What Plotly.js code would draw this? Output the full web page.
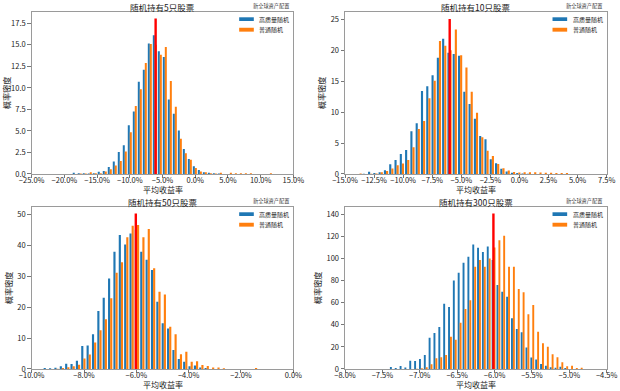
<!DOCTYPE html>
<html>
<head>
<meta charset="utf-8">
<script src="https://cdn.plot.ly/plotly-3.0.1.min.js"></script>
<style>html,body{margin:0;padding:0;background:#fff;}#chart{width:620px;height:391px;}</style>
</head>
<body>
<div id="chart"></div>
<script>
// ---------- data (percent returns, probability density) ----------
const titles = ['随机持有5只股票', '随机持有10只股票', '随机持有50只股票', '随机持有300只股票'];
const seriesNames = ['高质量随机', '普通随机'];
const watermark = '新全球资产配置';
const xTitle = '平均收益率';
const yTitle = '概率密度';

const bins5 = [-18.415, -17.65, -16.885, -16.12, -15.355, -14.59, -13.825, -13.06, -12.295, -11.53,
  -10.765, -10.0, -9.235, -8.47, -7.705, -6.94, -6.175, -5.41, -4.645, -3.88,
  -3.115, -2.35, -1.585, -0.82, -0.055, 0.71, 1.475, 2.24, 3.005, 3.77,
  4.535, 5.30, 6.065, 6.83, 7.595, 8.36, 9.125, 9.89, 10.655, 11.42];
const hq5 = [0.15, 0.1, 0.1, 0.05, 0.1, 0.25, 0.35, 0.8, 1.45, 2.55,
  3.35, 5.65, 7.25, 10.7, 12.1, 15.15, 16.1, 14.25, 13.6, 8.65,
  7.0, 5.05, 2.9, 1.75, 0.9, 0.45, 0.2, 0.15, 0.1, 0.05,
  0, 0, 0, 0, 0, 0, 0, 0, 0, 0];
const ord5 = [0, 0.05, 0.05, 0.2, 0.1, 0.1, 0.3, 0.55, 1.0, 1.5,
  2.6, 4.85, 7.9, 9.85, 12.9, 15.1, 15.0, 13.85, 14.75, 10.8,
  7.8, 4.1, 2.4, 1.65, 0.7, 0.3, 0.2, 0.1, 0.05, 0.15,
  0, 0.15, 0.1, 0.1, 0.1, 0.1, 0, 0, 0, 0.1];

const bins10 = [-13.75, -13.295, -12.84, -12.385, -11.93, -11.475, -11.02, -10.565, -10.11, -9.655,
  -9.2, -8.745, -8.29, -7.835, -7.38, -6.925, -6.47, -6.015, -5.56, -5.105,
  -4.65, -4.195, -3.74, -3.285, -2.83, -2.375, -1.92, -1.465, -1.01, -0.555,
  -0.1, 0.355, 0.81, 1.265, 1.72, 2.175, 2.63, 3.085, 3.54, 3.995];
const hq10 = [0, 0.05, 0.35, 0.15, 0.3, 0.6, 1.56, 2.26, 3.23, 3.88,
  6.9, 8.19, 13.4, 14.2, 15.95, 18.8, 21.87, 19.6, 19.4, 19.1,
  13.3, 11.3, 8.94, 6.14, 5.6, 2.37, 1.72, 0.86, 0.4, 0.2,
  0.15, 0.1, 0.05, 0, 0, 0, 0, 0, 0, 0];
const ord10 = [0.1, 0, 0.05, 0.1, 0.3, 0.5, 0.9, 1.4, 1.68, 2.26,
  4.31, 7.27, 8.57, 12.23, 15.09, 21.5, 20.74, 20.0, 23.38, 19.2,
  17.2, 13.3, 9.9, 5.93, 3.77, 2.9, 1.6, 0.91, 0.57, 0.32,
  0.25, 0.3, 0.3, 0.3, 0.25, 0.2, 0.2, 0.15, 0.15, 0.15];

const bins50 = [-9.46, -9.255, -9.05, -8.845, -8.64, -8.435, -8.23, -8.025, -7.82, -7.615,
  -7.41, -7.205, -7.0, -6.795, -6.59, -6.385, -6.18, -5.975, -5.77, -5.565,
  -5.36, -5.155, -4.95, -4.745, -4.54, -4.335, -4.13, -3.925, -3.72, -3.515,
  -3.31, -3.105, -2.9, -2.695, -2.49, -2.285, -2.08, -1.875, -1.67, -1.465];
const hq50 = [0.3, 0.2, 0.4, 0.9, 1.7, 1.6, 2.7, 7.4, 7.6, 11.2,
  18.75, 23.07, 29.3, 37.9, 43.3, 40.3, 43.86, 45.0, 37.9, 35.35,
  32.0, 21.77, 14.8, 13.1, 6.14, 3.2, 2.37, 0.9, 1.1, 0.5,
  0.3, 0, 0, 0, 0, 0, 0, 0, 0, 0];
const ord50 = [0, 0, 0.1, 0.3, 0.55, 0.9, 1.35, 3.4, 4.7, 8.6,
  12.5, 16.06, 22.85, 31.1, 34.5, 42.6, 46.3, 46.55, 42.6, 45.27,
  32.55, 25.0, 24.1, 13.7, 11.2, 4.74, 5.6, 2.3, 2.5, 1.3,
  1.0, 0.5, 0.5, 0.2, 0, 0, 0, 0, 0, 0.3];

const bins300 = [-7.374, -7.309, -7.244, -7.180, -7.115, -7.050, -6.985, -6.920, -6.856, -6.791,
  -6.726, -6.661, -6.596, -6.532, -6.467, -6.402, -6.337, -6.272, -6.208, -6.143,
  -6.078, -6.013, -5.948, -5.884, -5.819, -5.754, -5.689, -5.624, -5.560, -5.495,
  -5.430, -5.365, -5.300, -5.236, -5.171, -5.106, -5.041, -4.976, -4.912, -4.847];
const hq300 = [1.8, 0.8, 2.8, 1.4, 7.5, 7.2, 9.0, 12.7, 28.4, 32.6,
  38.0, 59.1, 56.1, 80.2, 87.2, 96.2, 101.7, 112.8, 109.8, 105.9,
  111.0, 98.6, 76.0, 70.0, 65.5, 45.9, 36.2, 33.2, 19.5, 10.3,
  8.5, 4.5, 3.0, 1.5, 1.2, 2.0, 0.8, 0, 0, 0];
const ord300 = [0, 0, 0, 0, 0, 0.3, 0.6, 1.5, 4.2, 9.65,
  10.6, 12.7, 29.3, 26.5, 41.9, 54.3, 62.2, 92.6, 98.6, 92.6,
  100.0, 110.0, 116.7, 120.6, 92.6, 92.6, 72.4, 69.4, 49.5, 57.9,
  33.8, 23.2, 20.2, 13.3, 10.6, 6.0, 2.4, 3.0, 1.0, 1.2];

// red marker line: position (%) and height
const markX = [-6.05, -6.0, -6.02, -6.015];
const markTop = [18.07, 25.05, 50.3, 140.9];

// ---------- build ----------
const binsAll = [bins5, bins10, bins50, bins300];
const hqAll = [hq5, hq10, hq50, hq300];
const ordAll = [ord5, ord10, ord50, ord300];

const BLUE = '#1f77b4', ORANGE = '#ff7f0e';
const FONT = '"Noto Sans CJK SC", "DejaVu Sans", sans-serif';
const TXT = '#1a1a1a';
const FRAME = '#9a9a9a';

const xDom = [[0.0511, 0.4731], [0.5565, 0.9785], [0.0511, 0.4731], [0.5565, 0.9785]];
const yDom = [[0.555, 0.9701], [0.555, 0.9701], [0.0563, 0.4714], [0.0563, 0.4714]];
const xCfg = [
  {range: [-25, 15], tick0: -25, dtick: 5},
  {range: [-15, 7.5], tick0: -15, dtick: 2.5},
  {range: [-10, 0], tick0: -10, dtick: 2},
  {range: [-8, -4.5], tick0: -8, dtick: 0.5}
];
const yCfg = [
  {range: [0, 18.85], dtick: 2.5, fmt: '.1f'},
  {range: [0, 26.24], dtick: 5, fmt: 'd'},
  {range: [0, 52.5], dtick: 10, fmt: 'd'},
  {range: [0, 147], dtick: 20, fmt: 'd'}
];

const data = [];
const layout = {
  width: 620, height: 391,
  margin: {l: 0, r: 0, t: 0, b: 0},
  paper_bgcolor: '#fff', plot_bgcolor: '#fff',
  barmode: 'group', bargap: 0.2, bargroupgap: 0,
  showlegend: false, hovermode: false,
  font: {family: FONT, size: 7.5, color: TXT},
  annotations: [], shapes: []
};

for (let i = 0; i < 4; i++) {
  const n = i === 0 ? '' : String(i + 1);
  const xa = 'x' + n, ya = 'y' + n;
  data.push({type: 'bar', x: binsAll[i], y: hqAll[i], name: seriesNames[0], xaxis: xa, yaxis: ya,
    marker: {color: BLUE, line: {width: 0}}});
  data.push({type: 'bar', x: binsAll[i], y: ordAll[i], name: seriesNames[1], xaxis: xa, yaxis: ya,
    marker: {color: ORANGE, line: {width: 0}}});
  data.push({type: 'scatter', mode: 'lines', x: [markX[i], markX[i]], y: [0, markTop[i]],
    xaxis: xa, yaxis: ya, line: {color: '#ff0000', width: 2.4}, showlegend: false});

  layout['xaxis' + n] = {
    domain: xDom[i], anchor: ya, range: xCfg[i].range, tick0: xCfg[i].tick0, dtick: xCfg[i].dtick,
    tickmode: 'linear', tickformat: '.1f', ticksuffix: '%',
    showgrid: false, zeroline: false, showline: true, mirror: true, linecolor: FRAME, linewidth: 1,
    ticks: 'outside', ticklen: 3.5, tickwidth: 0.8, tickcolor: '#555',
    ticklabelstandoff: -4,
    tickfont: {family: FONT, size: 7.5, color: TXT}
  };
  layout['yaxis' + n] = {
    domain: yDom[i], anchor: xa, range: yCfg[i].range, dtick: yCfg[i].dtick, tick0: 0,
    tickmode: 'linear', tickformat: yCfg[i].fmt,
    showgrid: false, zeroline: false, showline: true, mirror: true, linecolor: FRAME, linewidth: 1,
    ticks: 'outside', ticklen: 3.5, tickwidth: 0.8, tickcolor: '#555',
    tickfont: {family: FONT, size: 7.5, color: TXT},
    title: {text: yTitle, font: {family: FONT, size: 8.2, color: TXT}, standoff: 3}
  };

  // x-axis title
  layout.annotations.push({xref: xa + ' domain', yref: ya + ' domain', x: 0.5, y: -0.0986,
    text: xTitle, showarrow: false, xanchor: 'center', yanchor: 'middle',
    font: {family: FONT, size: 8, color: TXT}});
  // subplot title
  layout.annotations.push({xref: xa + ' domain', yref: ya + ' domain', x: 0.5, y: 1.031,
    text: titles[i], showarrow: false, xanchor: 'center', yanchor: 'middle',
    font: {family: FONT, size: 8.5, color: TXT}});
  // watermark
  layout.annotations.push({xref: xa + ' domain', yref: ya + ' domain', x: 0.99, y: 1.032,
    text: watermark, showarrow: false, xanchor: 'right', yanchor: 'middle',
    font: {family: FONT, size: 5.2, color: '#333'}});
  // legend (drawn in the axes corner)
  const colors = [BLUE, ORANGE];
  const rows = [[0.9427, 0.9655], [0.877, 0.901]];
  for (let s = 0; s < 2; s++) {
    layout.shapes.push({type: 'rect', xref: xa + ' domain', yref: ya + ' domain',
      x0: 0.793, x1: 0.849, y0: rows[s][0], y1: rows[s][1],
      fillcolor: colors[s], line: {width: 0}});
    layout.annotations.push({xref: xa + ' domain', yref: ya + ' domain', x: 0.862,
      y: (rows[s][0] + rows[s][1]) / 2, text: seriesNames[s], showarrow: false,
      xanchor: 'left', yanchor: 'middle', font: {family: FONT, size: 6, color: TXT}});
  }
}

Plotly.newPlot('chart', data, layout, {staticPlot: true, displayModeBar: false});
</script>
</body>
</html>
